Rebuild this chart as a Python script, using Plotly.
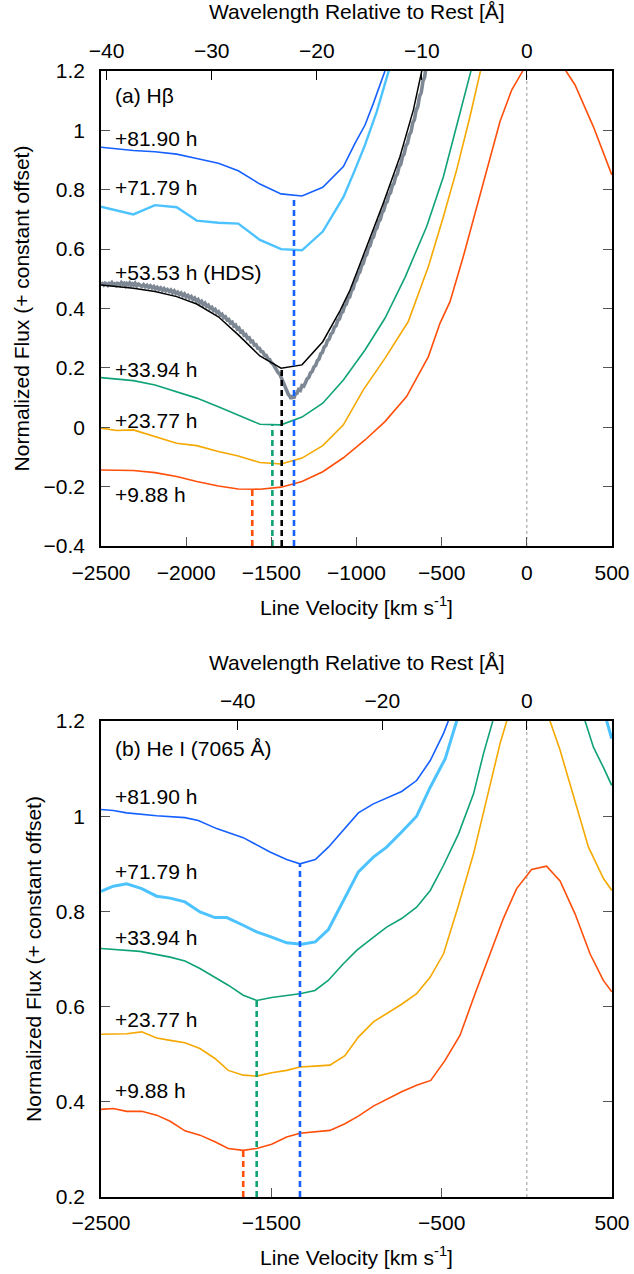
import plotly.graph_objects as go

C_KMS = 299792.458
LAM_HB = 4861.33
LAM_HE = 7065.19

# ---------------- Panel (a) H-beta ----------------
hb_v_8190 = [-2500, -2310, -2183, -2056, -1938, -1811, -1694, -1567, -1443, -1320, -1198, -1077, -1009, -950, -901, -833, -780]
hb_f_8190 = [0.943, 0.932, 0.928, 0.920, 0.905, 0.889, 0.864, 0.819, 0.786, 0.779, 0.808, 0.878, 0.956, 1.018, 1.091, 1.2, 1.3]

hb_v_7179 = [-2500, -2310, -2183, -2056, -1938, -1811, -1694, -1567, -1443, -1320, -1198, -1077, -1009, -950, -881, -815, -760]
hb_f_7179 = [0.743, 0.717, 0.748, 0.741, 0.696, 0.689, 0.686, 0.631, 0.600, 0.596, 0.659, 0.775, 0.867, 0.951, 1.063, 1.2, 1.3]

hb_v_5353 = [-2500, -2310, -2183, -2056, -1938, -1811, -1694, -1567, -1443, -1320, -1198, -1097, -1038, -940, -843, -745, -666, -617, -560]
hb_f_5353 = [0.479, 0.468, 0.457, 0.440, 0.415, 0.372, 0.311, 0.240, 0.199, 0.210, 0.288, 0.392, 0.462, 0.608, 0.754, 0.911, 1.069, 1.2, 1.38]

hb_v_hds = [-2500, -2492, -2484, -2476, -2468, -2460, -2452, -2444, -2436, -2428, -2420, -2412, -2404, -2396,
            -2388, -2380, -2372, -2364, -2356, -2348, -2340, -2332, -2324, -2316, -2308, -2300, -2290, -2280,
            -2270, -2260, -2250, -2240, -2230, -2220, -2210, -2200, -2190, -2180, -2170, -2160, -2150, -2140,
            -2130, -2120, -2110, -2100, -2090, -2080, -2070, -2060, -2050, -2040, -2030, -2020, -2010, -2000,
            -1990, -1980, -1970, -1960, -1950, -1940, -1930, -1920, -1910, -1900, -1890, -1880, -1870, -1860,
            -1850, -1840, -1830, -1820, -1810, -1800, -1790, -1780, -1770, -1760, -1750, -1740, -1730, -1720,
            -1710, -1700, -1690, -1680, -1670, -1660, -1650, -1640, -1630, -1620, -1610, -1600, -1590, -1580,
            -1570, -1560, -1550, -1540, -1530, -1520, -1510, -1500, -1490, -1480, -1470, -1460, -1450, -1440,
            -1430, -1420, -1410, -1400, -1392, -1384, -1376, -1368, -1360, -1350, -1340, -1330, -1320, -1310,
            -1300, -1290, -1280, -1270, -1260, -1250, -1240, -1230, -1220, -1210, -1200, -1190, -1180, -1170,
            -1160, -1150, -1140, -1130, -1120, -1110, -1100, -1090, -1080, -1070, -1060, -1050, -1040, -1030,
            -1020, -1010, -1000, -990, -980, -970, -960, -950, -940, -930, -920, -910, -900, -890, -880, -870,
            -860, -850, -840, -830, -820, -810, -800, -790, -780, -770, -760, -750, -740, -730, -720, -710,
            -700, -690, -680, -670, -660, -650, -640, -630, -620, -610, -600, -590]
hb_f_hds = [0.481, 0.484, 0.479, 0.485, 0.483, 0.478, 0.484, 0.481, 0.487, 0.480, 0.483, 0.478, 0.485, 0.484,
            0.479, 0.487, 0.482, 0.485, 0.477, 0.484, 0.480, 0.486, 0.478, 0.483, 0.479, 0.485, 0.476, 0.482,
            0.478, 0.474, 0.480, 0.473, 0.478, 0.471, 0.476, 0.469, 0.474, 0.466, 0.471, 0.464, 0.469, 0.461,
            0.467, 0.459, 0.464, 0.457, 0.462, 0.453, 0.459, 0.450, 0.455, 0.447, 0.452, 0.443, 0.449, 0.439,
            0.444, 0.435, 0.440, 0.430, 0.435, 0.425, 0.430, 0.419, 0.424, 0.413, 0.418, 0.407, 0.411, 0.400,
            0.404, 0.393, 0.397, 0.386, 0.389, 0.378, 0.381, 0.369, 0.372, 0.361, 0.363, 0.351, 0.354, 0.341,
            0.344, 0.331, 0.334, 0.321, 0.323, 0.310, 0.312, 0.299, 0.301, 0.288, 0.290, 0.277, 0.278, 0.266,
            0.266, 0.255, 0.254, 0.243, 0.242, 0.230, 0.228, 0.217, 0.213, 0.202, 0.197, 0.184, 0.178, 0.164,
            0.155, 0.138, 0.128, 0.110, 0.105, 0.096, 0.107, 0.097, 0.111, 0.114, 0.127, 0.124, 0.140, 0.138,
            0.150, 0.163, 0.168, 0.183, 0.188, 0.203, 0.208, 0.224, 0.230, 0.247, 0.252, 0.270, 0.275, 0.292,
            0.297, 0.314, 0.319, 0.337, 0.342, 0.360, 0.365, 0.384, 0.389, 0.409, 0.414, 0.434, 0.439, 0.460,
            0.466, 0.488, 0.495, 0.516, 0.523, 0.545, 0.552, 0.575, 0.582, 0.605, 0.612, 0.634, 0.641, 0.664,
            0.671, 0.693, 0.700, 0.723, 0.730, 0.753, 0.760, 0.783, 0.790, 0.814, 0.821, 0.845, 0.853, 0.878,
            0.886, 0.912, 0.921, 0.948, 0.957, 0.985, 0.995, 1.025, 1.036, 1.068, 1.080, 1.115, 1.128, 1.165,
            1.180, 1.220]

hb_v_3394 = [-2500, -2310, -2183, -2056, -1938, -1811, -1694, -1567, -1443, -1320, -1198, -1077, -950, -833, -715, -588, -490, -412, -328, -260]
hb_f_3394 = [0.167, 0.157, 0.142, 0.120, 0.098, 0.069, 0.041, 0.010, 0.008, 0.034, 0.081, 0.159, 0.260, 0.367, 0.505, 0.676, 0.844, 1.012, 1.2, 1.35]

hb_v_2377 = [-2500, -2408, -2310, -2183, -2056, -1938, -1811, -1694, -1567, -1443, -1320, -1198, -1077, -960, -833, -696, -578, -490, -412, -334, -275, -220]
hb_f_2377 = [-0.003, -0.011, -0.009, -0.032, -0.054, -0.062, -0.082, -0.097, -0.119, -0.124, -0.104, -0.062, 0.008, 0.126, 0.232, 0.356, 0.541, 0.709, 0.867, 1.046, 1.2, 1.33]

hb_v_988 = [-2500, -2310, -2183, -2056, -1938, -1811, -1694, -1567, -1443, -1320, -1198, -1077, -950, -833, -706, -578, -510, -451, -373, -236, -158, -89, -24, 100, 230, 283, 391, 499]
hb_f_988 = [-0.144, -0.146, -0.153, -0.166, -0.183, -0.198, -0.208, -0.209, -0.202, -0.183, -0.150, -0.103, -0.043, 0.019, 0.103, 0.238, 0.350, 0.423, 0.575, 0.867, 1.029, 1.136, 1.2, 1.36, 1.2, 1.153, 1.012, 0.850]

hb_min_v = [-1612, -1494, -1439, -1367]
hb_min_f = [-0.209, 0.008, 0.199, 0.782]
hb_min_col = ["#ff4f0a", "#10a277", "#000000", "#1560ff"]

# ---------------- Panel (b) He I 7065 ----------------
he_v_8190 = [-2500, -2428, -2349, -2173, -2007, -1929, -1821, -1665, -1508, -1410, -1332, -1242, -1165, -1077, -989, -901, -823, -735, -647, -567, -489, -461, -400]
he_f_8190 = [1.014, 1.012, 1.007, 1.001, 0.997, 0.991, 0.974, 0.955, 0.925, 0.909, 0.900, 0.909, 0.935, 0.970, 1.007, 1.026, 1.039, 1.052, 1.075, 1.117, 1.174, 1.2, 1.3]

he_v_7179 = [-2500, -2428, -2349, -2261, -2173, -2094, -2007, -1919, -1831, -1762, -1665, -1586, -1498, -1410, -1322, -1242, -1165, -1077, -989, -901, -823, -735, -647, -567, -479, -412, -350, 440, 469, 498]
he_f_7179 = [0.842, 0.853, 0.858, 0.848, 0.832, 0.828, 0.820, 0.799, 0.787, 0.787, 0.771, 0.757, 0.746, 0.734, 0.731, 0.736, 0.762, 0.823, 0.883, 0.914, 0.935, 0.967, 1.0, 1.061, 1.121, 1.2, 1.3, 1.3, 1.2, 1.163]

he_v_3394 = [-2500, -2271, -2094, -2007, -1919, -1831, -1753, -1665, -1586, -1498, -1410, -1332, -1244, -1166, -1077, -999, -911, -823, -735, -647, -567, -489, -401, -313, -255, -200, -150, 300, 342, 391, 449, 498]
he_f_3394 = [0.722, 0.716, 0.704, 0.696, 0.680, 0.662, 0.645, 0.624, 0.613, 0.619, 0.624, 0.627, 0.634, 0.655, 0.690, 0.718, 0.743, 0.767, 0.785, 0.809, 0.844, 0.897, 0.963, 1.047, 1.131, 1.2, 1.3, 1.3, 1.2, 1.145, 1.103, 1.065]

he_v_2377 = [-2500, -2349, -2261, -2173, -2094, -2007, -1919, -1831, -1753, -1665, -1586, -1498, -1410, -1332, -1244, -1156, -1068, -989, -901, -823, -735, -647, -567, -489, -401, -313, -226, -157, -118, -60, 80, 136, 195, 283, 362, 450, 499]
he_f_2377 = [0.542, 0.543, 0.547, 0.534, 0.529, 0.524, 0.512, 0.491, 0.466, 0.456, 0.454, 0.461, 0.466, 0.473, 0.475, 0.477, 0.497, 0.536, 0.568, 0.585, 0.605, 0.627, 0.662, 0.711, 0.813, 0.921, 1.051, 1.153, 1.2, 1.3, 1.3, 1.2, 1.139, 1.033, 0.935, 0.869, 0.844]

he_v_988 = [-2500, -2428, -2349, -2261, -2173, -2094, -2007, -1919, -1831, -1753, -1665, -1586, -1498, -1410, -1332, -1244, -1156, -1068, -989, -901, -823, -735, -647, -564, -480, -392, -304, -226, -138, -60, 28, 116, 195, 283, 371, 449, 499]
he_f_988 = [0.384, 0.386, 0.380, 0.380, 0.372, 0.359, 0.339, 0.330, 0.316, 0.302, 0.298, 0.302, 0.311, 0.326, 0.334, 0.337, 0.340, 0.354, 0.370, 0.391, 0.405, 0.421, 0.435, 0.445, 0.487, 0.540, 0.627, 0.703, 0.785, 0.848, 0.888, 0.895, 0.864, 0.795, 0.711, 0.655, 0.631]

he_min_v = [-1665, -1586, -1332]
he_min_f = [0.298, 0.613, 0.900]
he_min_col = ["#ff4f0a", "#10a277", "#1560ff"]

# wavelength ticks (top axes)
hb_wl_ticks = [-40, -30, -20, -10, 0]
he_wl_ticks = [-40, -20, 0]

# labels
hb_labels = ["(a) Hβ", "+81.90 h", "+71.79 h", "+53.53 h (HDS)", "+33.94 h", "+23.77 h", "+9.88 h"]
hb_label_y = [1.116, 0.971, 0.806, 0.521, 0.196, 0.022, -0.228]
he_labels = ["(b) He I (7065 Å)", "+81.90 h", "+71.79 h", "+33.94 h", "+23.77 h", "+9.88 h"]
he_label_y = [1.143, 1.042, 0.884, 0.746, 0.573, 0.423]
top_title_text = "Wavelength Relative to Rest [Å]"

BLUE = "#1560ff"
LBLUE = "#4cc3ff"
GREEN = "#10a277"
ORANGE = "#f5a800"
RED = "#ff4f0a"
GRAY = "#7d8894"
FONT = "Liberation Sans"
FS = 21

fig = go.Figure()

def line(x, y, color, width, xa, ya, dash=None):
    fig.add_trace(go.Scatter(x=x, y=y, mode="lines", xaxis=xa, yaxis=ya,
                             line=dict(color=color, width=width, dash=dash),
                             hoverinfo="skip", showlegend=False))

# panel a
line(hb_v_8190, hb_f_8190, BLUE, 1.6, "x", "y")
line(hb_v_7179, hb_f_7179, LBLUE, 2.4, "x", "y")
line(hb_v_hds, hb_f_hds, GRAY, 3.6, "x", "y")
line(hb_v_5353, hb_f_5353, "#000000", 1.5, "x", "y")
line(hb_v_3394, hb_f_3394, GREEN, 1.6, "x", "y")
line(hb_v_2377, hb_f_2377, ORANGE, 1.6, "x", "y")
line(hb_v_988, hb_f_988, RED, 1.6, "x", "y")
for v, f, c in zip(hb_min_v, hb_min_f, hb_min_col):
    line([v, v], [-0.4, f], c, 2.6, "x", "y", dash="6px,4px")
fig.add_trace(go.Scatter(x=[0], y=[0], xaxis="x2", yaxis="y", mode="markers",
                         marker=dict(opacity=0), hoverinfo="skip", showlegend=False))

# panel b
line(he_v_8190, he_f_8190, BLUE, 1.6, "x3", "y2")
line(he_v_7179, he_f_7179, LBLUE, 3.0, "x3", "y2")
line(he_v_3394, he_f_3394, GREEN, 1.6, "x3", "y2")
line(he_v_2377, he_f_2377, ORANGE, 1.6, "x3", "y2")
line(he_v_988, he_f_988, RED, 1.6, "x3", "y2")
for v, f, c in zip(he_min_v, he_min_f, he_min_col):
    line([v, v], [0.2, f], c, 2.6, "x3", "y2", dash="6px,4px")
fig.add_trace(go.Scatter(x=[0], y=[0.5], xaxis="x4", yaxis="y2", mode="markers",
                         marker=dict(opacity=0), hoverinfo="skip", showlegend=False))

def fmt(n):
    return ("−" + str(abs(n))) if n < 0 else str(n)

tickfont = dict(family=FONT, size=FS, color="#000000")
common_x = dict(range=[-2500, 500], showgrid=False, zeroline=False, showline=True,
                linecolor="#000000", linewidth=1.5, ticks="inside", ticklen=9,
                tickcolor="#555555", tickwidth=1, tickfont=tickfont, automargin=False)
common_y = dict(showgrid=False, zeroline=False, showline=True, linecolor="#000000",
                linewidth=1.5, ticks="inside", ticklen=9, tickcolor="#555555",
                tickwidth=1, mirror="ticks", tickfont=tickfont, ticklabelstandoff=10,
                automargin=False,
                title=dict(text="Normalized Flux (+ constant offset)",
                           font=dict(family=FONT, size=FS), standoff=8))

yd_a = [0.5782, 1.0]
yd_b = [0.0, 0.4227]

bottom_title = dict(text="Line Velocity [km s<sup>-1</sup>]", standoff=17,
                    font=dict(family=FONT, size=FS))

fig.update_layout(
    width=634, height=1274,
    margin=dict(l=101, r=22, t=71, b=77),
    plot_bgcolor="white", paper_bgcolor="white",
    showlegend=False,
    font=dict(family=FONT, size=FS, color="#000000"),
    xaxis=dict(common_x, anchor="y", dtick=500, tick0=-2500, ticklabelstandoff=7,
               title=bottom_title),
    xaxis2=dict(common_x, anchor="y", overlaying="x", side="top",
                tickvals=[w / LAM_HB * C_KMS for w in hb_wl_ticks],
                ticktext=[fmt(w) for w in hb_wl_ticks], ticklabelstandoff=3,
                tickcolor="#000000"),
    yaxis=dict(common_y, domain=yd_a, range=[-0.4, 1.2], dtick=0.2, tick0=-0.4, anchor="x"),
    xaxis3=dict(common_x, anchor="y2", tickvals=[-2500, -1500, -500, 500],
                ticktext=["−2500", "−1500", "−500", "500"], ticklabelstandoff=6,
                title=bottom_title),
    xaxis4=dict(common_x, anchor="y2", overlaying="x3", side="top",
                tickvals=[w / LAM_HE * C_KMS for w in he_wl_ticks],
                ticktext=[fmt(w) for w in he_wl_ticks], ticklabelstandoff=3,
                tickcolor="#000000"),
    yaxis2=dict(common_y, domain=yd_b, range=[0.2, 1.2], dtick=0.2, tick0=0.2, anchor="x3"),
)

shapes = []
for xr, yr in (("x", "y"), ("x3", "y2")):
    shapes.append(dict(type="line", xref=xr, yref=yr + " domain", x0=0, x1=0, y0=0, y1=1,
                       line=dict(color="#999999", width=1, dash="dot"), layer="below"))
fig.update_layout(shapes=shapes)

annots = []
for t, yv in zip(hb_labels, hb_label_y):
    annots.append(dict(text=t, x=-2432, y=yv, xref="x", yref="y", xanchor="left",
                       yanchor="middle", showarrow=False, font=dict(family=FONT, size=FS, color="#000")))
for t, yv in zip(he_labels, he_label_y):
    annots.append(dict(text=t, x=-2432, y=yv, xref="x3", yref="y2", xanchor="left",
                       yanchor="middle", showarrow=False, font=dict(family=FONT, size=FS, color="#000")))
# top-axis titles (placed above each panel's wavelength tick labels)
for ydom in (yd_a, yd_b):
    annots.append(dict(text=top_title_text, xref="paper", yref="paper", x=0.5,
                       y=ydom[1] + 59 / 1126, xanchor="center", yanchor="middle",
                       showarrow=False, font=dict(family=FONT, size=FS, color="#000")))
fig.update_layout(annotations=annots)

fig.write_html("out.html", config={"displayModeBar": False},
               post_script="document.body.style.margin='0';document.body.style.overflow='hidden';")
